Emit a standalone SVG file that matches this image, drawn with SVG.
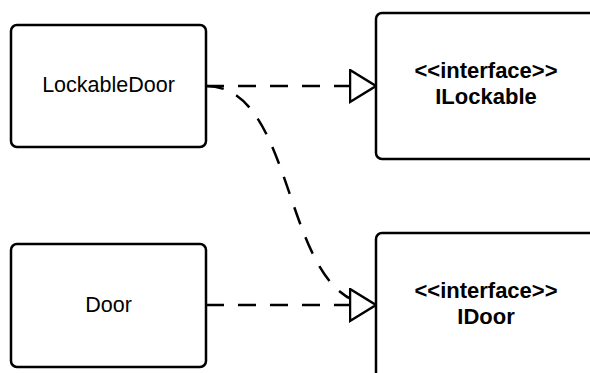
<svg xmlns="http://www.w3.org/2000/svg" width="590" height="373" viewBox="0 0 590 373">
  <defs>
    <marker id="realize" markerUnits="userSpaceOnUse" markerWidth="30" markerHeight="38" refX="27" refY="17" orient="auto">
      <path d="M1,1 L27,17 L1,33 Z" fill="#fff" stroke="#000" stroke-width="2.5" stroke-linejoin="miter"/>
    </marker>
  </defs>
  <style>
    .box { fill: #fff; stroke: #000; stroke-width: 2.5; }
    .lbl { font-family: "Liberation Sans", Arial, sans-serif; font-size: 21.5px; fill: #000; text-anchor: middle; }
    .bold { font-weight: bold; font-size: 22px; }
    .dep { fill: none; stroke: #000; stroke-width: 2.5; stroke-dasharray: 18 14; }
  </style>
  <rect width="590" height="373" fill="#fff"/>

  <g id="connectors">
    <path class="dep" d="M206,86 C300,86 280,305 376,305"/>
    <path class="dep" d="M206,86 H376" marker-end="url(#realize)"/>
    <path class="dep" d="M206,305 H376" marker-end="url(#realize)"/>
  </g>

  <g id="lockable-door">
    <rect class="box" x="11" y="25" width="195" height="122" rx="6"/>
    <text class="lbl" x="108.5" y="91.5">LockableDoor</text>
  </g>

  <g id="door">
    <rect class="box" x="11" y="244" width="195" height="123" rx="6"/>
    <text class="lbl" x="108.5" y="312">Door</text>
  </g>

  <g id="ilockable">
    <rect class="box" x="376" y="13" width="230" height="146" rx="6"/>
    <text class="lbl bold" x="486" y="78">&lt;&lt;interface&gt;&gt;</text>
    <text class="lbl bold" x="486" y="104">ILockable</text>
  </g>

  <g id="idoor">
    <rect class="box" x="376" y="233" width="230" height="160" rx="6"/>
    <text class="lbl bold" x="486" y="298">&lt;&lt;interface&gt;&gt;</text>
    <text class="lbl bold" x="486" y="324">IDoor</text>
  </g>
</svg>
